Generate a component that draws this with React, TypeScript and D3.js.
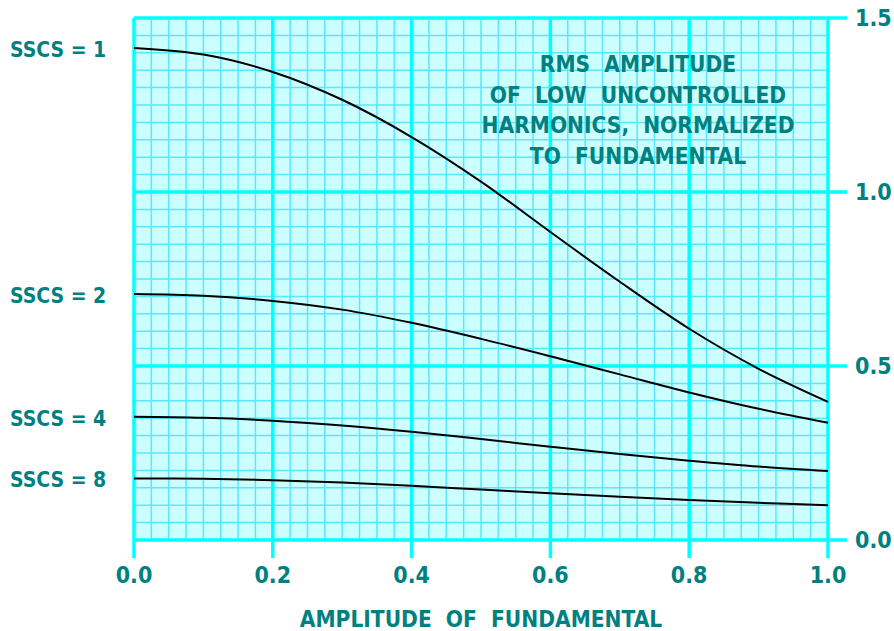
import React from 'react'
import * as d3 from 'd3'

// amplitude of fundamental
const amplitude = [0, 0.1, 0.2, 0.3, 0.4, 0.5, 0.6, 0.7, 0.8, 0.9, 1.0]

// rms amplitude of low uncontrolled harmonics
const sscs1 = [1.414, 1.395, 1.345, 1.265, 1.158, 1.03, 0.885, 0.742, 0.607, 0.492, 0.397]
const sscs2 = [0.707, 0.702, 0.687, 0.662, 0.624, 0.578, 0.528, 0.476, 0.424, 0.377, 0.337]
const sscs4 = [0.354, 0.351, 0.343, 0.329, 0.311, 0.29, 0.268, 0.247, 0.228, 0.211, 0.198]
const sscs8 = [0.177, 0.176, 0.172, 0.165, 0.156, 0.145, 0.134, 0.124, 0.115, 0.107, 0.1]

const seriesLabels = ['SSCS = 1', 'SSCS = 2', 'SSCS = 4', 'SSCS = 8']
const seriesValues = [sscs1, sscs2, sscs4, sscs8]

const xTicks = [0, 0.2, 0.4, 0.6, 0.8, 1.0]
const yTicks = [0, 0.5, 1.0, 1.5]

const noteLines = ['RMS  AMPLITUDE', 'OF  LOW  UNCONTROLLED', 'HARMONICS,  NORMALIZED', 'TO  FUNDAMENTAL']
const xTitle = 'AMPLITUDE  OF  FUNDAMENTAL'

const W = 894
const H = 631
const TEAL = '#008080'
const FONT = '"DejaVu Sans Condensed", "DejaVu Sans", sans-serif'

const txt = {
  fontFamily: FONT,
  fontWeight: 700,
  fontStretch: 'condensed',
  fill: TEAL,
  whiteSpace: 'pre',
} as React.CSSProperties

export default function App() {
  const x = d3.scaleLinear().domain([0, 1]).range([134, 828])
  const y = d3.scaleLinear().domain([0, 1.5]).range([540, 18])

  const minorX = d3.range(0, 1.0001, 0.025)
  const minorY = d3.range(0, 1.5001, 0.05)

  const line = d3
    .line<number>()
    .x((_, i) => x(amplitude[i]))
    .y(d => y(d))
    .curve(d3.curveCatmullRom)

  const tickLen = 18

  return (
    <svg width={W} height={H} style={{ position: 'absolute', left: 0, top: 0 }}>
      {/* grid paper */}
      <rect x={x(0)} y={y(1.5)} width={x(1) - x(0)} height={y(0) - y(1.5)} fill="#ccffff" />
      {minorX.map((v, i) => (
        <line key={'mx' + i} x1={x(v)} x2={x(v)} y1={y(0)} y2={y(1.5)} stroke="#55e8ff" strokeWidth={1.5} />
      ))}
      {minorY.map((v, i) => (
        <line key={'my' + i} x1={x(0)} x2={x(1)} y1={y(v)} y2={y(v)} stroke="#55e8ff" strokeWidth={1.5} />
      ))}

      {/* major lines with ticks */}
      {xTicks.map(v => (
        <line key={'gx' + v} x1={x(v)} x2={x(v)} y1={y(1.5)} y2={y(0) + tickLen} stroke="#00ffff" strokeWidth={3.5} />
      ))}
      {yTicks.map(v => (
        <line key={'gy' + v} x1={x(0)} x2={x(1) + tickLen + 1} y1={y(v)} y2={y(v)} stroke="#00ffff" strokeWidth={3.5} />
      ))}

      {/* curves */}
      {seriesValues.map((vals, i) => (
        <path key={'s' + i} d={line(vals) || ''} fill="none" stroke="#000" strokeWidth={2} />
      ))}

      {/* series labels */}
      {seriesValues.map((vals, i) => (
        <text key={'l' + i} x={10} y={y(vals[0]) + 3} dominantBaseline="middle" fontSize={21} style={txt}>
          {seriesLabels[i]}
        </text>
      ))}

      {/* x tick labels */}
      {xTicks.map(v => (
        <text key={'tx' + v} x={x(v)} y={583} textAnchor="middle" fontSize={23} style={txt}>
          {v.toFixed(1)}
        </text>
      ))}

      {/* y tick labels */}
      {yTicks.map(v => (
        <text key={'ty' + v} x={855} y={y(v) + 1} dominantBaseline="middle" fontSize={23} style={txt}>
          {v.toFixed(1)}
        </text>
      ))}

      {/* note */}
      {noteLines.map((t, i) => (
        <text key={'n' + i} x={638} y={72 + i * 30.5} textAnchor="middle" fontSize={22.5} style={txt}>
          {t}
        </text>
      ))}

      {/* axis title */}
      <text x={481} y={627} textAnchor="middle" fontSize={22.5} style={txt}>
        {xTitle}
      </text>
    </svg>
  )
}
